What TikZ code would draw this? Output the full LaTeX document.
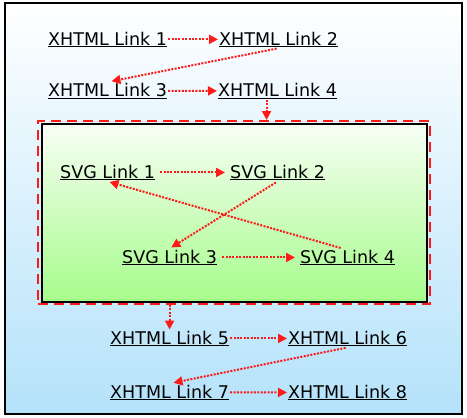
\documentclass[tikz,border=0pt]{standalone}
\usepackage{fontspec}
\setmainfont{DejaVu Sans}
\usetikzlibrary{arrows.meta}
\definecolor{pagebottom}{HTML}{B4E2FA}
\definecolor{svgtop}{HTML}{F8FEF4}
\definecolor{svgbottom}{HTML}{A6FC8C}
\definecolor{linkred}{HTML}{FF1A1A}

\begin{document}
\begin{tikzpicture}[x=1pt, y=-1pt,
    link/.style={anchor=base west, inner sep=1pt, font=\fontsize{17.5}{20}\selectfont},
    jump/.style={-{Triangle[length=9pt, width=9pt]}, linkred, dash pattern=on 2pt off 1.4pt, line width=2pt}]
    \useasboundingbox (0,0) rectangle (467,418);

    % Page and embedded SVG
    \node[draw, line width=2pt, top color=white, bottom color=pagebottom,
        minimum width=457pt, minimum height=411pt, inner sep=0pt] (page) at (233.5,208.7) {};
    \node[draw=linkred, dash pattern=on 10pt off 6pt, line width=2pt,
        minimum width=392pt, minimum height=183pt, inner sep=0pt] (frame) at (234,212.5) {};
    \node[draw, line width=2pt, top color=svgtop, bottom color=svgbottom,
        minimum width=385pt, minimum height=178pt, inner sep=0pt] (svg) at (234,213) {};

    % XHTML links before
    \node[link] (x1) at (47,45) {\underline{XHTML Link 1}};
    \node[link] (x2) at (218,45) {\underline{XHTML Link 2}};
    \node[link] (x3) at (47,96.5) {\underline{XHTML Link 3}};
    \node[link] (x4) at (217,96.5) {\underline{XHTML Link 4}};

    % SVG links
    \node[link] (s1) at (59,178) {\underline{SVG Link 1}};
    \node[link] (s2) at (229,178) {\underline{SVG Link 2}};
    \node[link] (s3) at (121,263) {\underline{SVG Link 3}};
    \node[link] (s4) at (299,263) {\underline{SVG Link 4}};

    % XHTML links after
    \node[link] (x5) at (109,344) {\underline{XHTML Link 5}};
    \node[link] (x6) at (287,344) {\underline{XHTML Link 6}};
    \node[link] (x7) at (109,398) {\underline{XHTML Link 7}};
    \node[link] (x8) at (287,398) {\underline{XHTML Link 8}};

    % Tab order
    \draw[jump] (x1) -- (x2);
    \draw[jump, shorten <=2pt, shorten >=4pt] (x2.south) -- (x3.north);
    \draw[jump] (x3) -- (x4);
    \draw[jump] ([xshift=-11pt]x4.south) -- ([xshift=-11pt]x4.south |- frame.north);

    \draw[jump, shorten <=4pt, shorten >=4pt] (s1) -- (s2);
    \draw[jump, shorten <=2pt, shorten >=2pt] (s2.south) -- (s3.north);
    \draw[jump, shorten <=4pt, shorten >=4pt] (s3) -- (s4);
    \draw[jump, shorten <=2pt, shorten >=2pt] ([xshift=-5pt]s4.north) -- (s1.south);

    \draw[jump] (frame.south -| x5.north) -- (x5.north);
    \draw[jump] (x5) -- (x6);
    \draw[jump, shorten <=2pt, shorten >=4pt] (x6.south) -- (x7.north);
    \draw[jump] (x7) -- (x8);
\end{tikzpicture}
\end{document}
